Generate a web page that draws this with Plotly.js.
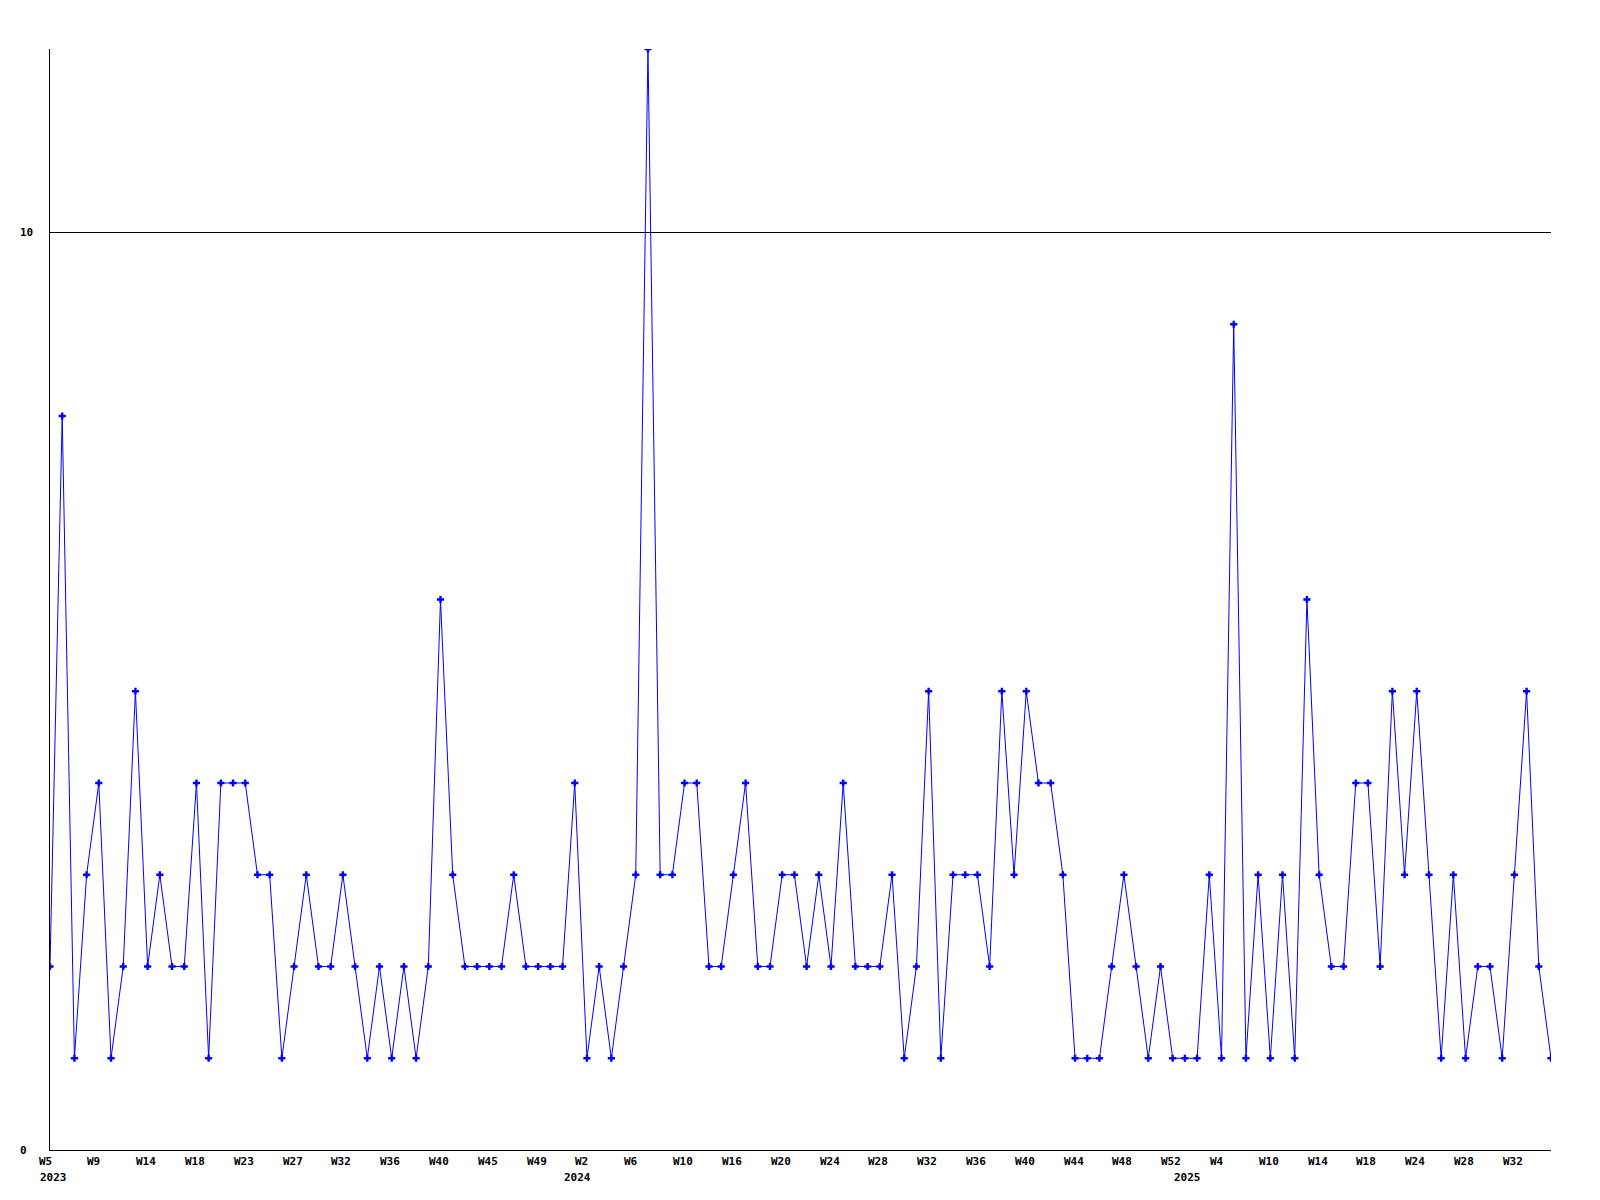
<!DOCTYPE html>
<html>
<head>
<meta charset="utf-8">
<script src="https://cdn.plot.ly/plotly-3.0.1.min.js"></script>
<style>
  html, body { margin: 0; padding: 0; background: #ffffff; }
  #chart { width: 1600px; height: 1200px; }
</style>
</head>
<body>
<div id="chart"></div>
<script>
// Weekly counts, 124 points (2023 W5 .. 2025 ~W35)
const values = [
  2, 8, 1, 3, 4, 1, 2, 5, 2, 3,
  2, 2, 4, 1, 4, 4, 4, 3, 3, 1,
  2, 3, 2, 2, 3, 2, 1, 2, 1, 2,
  1, 2, 6,
  3, 2, 2, 2, 2, 3, 2, 2, 2, 2,
  4, 1, 2, 1, 2, 3, 12, 3, 3, 4,
  4, 2, 2, 3, 4, 2, 2, 3, 3, 2,
  3, 2,
  4, 2, 2, 2, 3, 1, 2, 5, 1, 3,
  3, 3, 2, 5, 3, 5, 4, 4, 3, 1,
  1, 1, 2, 3, 2, 1, 2, 1, 1, 1,
  3, 1,
  9, 1, 3, 1, 3, 1, 6, 3, 2, 2,
  4, 4, 2, 5, 3, 5, 3, 1, 3, 1,
  2, 2, 1, 3, 5, 2, 1
];

// Tick labels (week labels) and the point index they sit on
const weekLabels = ["W5","W9","W14","W18","W23","W27","W32","W36","W40","W45","W49",
                    "W2","W6","W10","W16","W20","W24","W28","W32","W36","W40","W44","W48","W52",
                    "W4","W10","W14","W18","W24","W28","W32"];
const weekTickIdx = [0,4,8,12,16,20,24,28,32,36,40,
                     44,48,52,56,60,64,68,72,76,80,84,88,92,
                     96,100,104,108,112,116,120];

// Year labels and the point index of the first point of each year
const yearLabels = ["2023","2024","2025"];
const yearIdx = [0, 43, 93];

const yTickVals = [0, 10];
const yTickText = ["0", "10"];

const xIdx = values.map((v, i) => i);

// layout geometry
const L = 50, R = 49, T = 49, B = 50, W = 1600, H = 1200;
const plotW = W - L - R;
const plotH = H - T - B;
const xMax = values.length - 1;
const pxPerIdx = plotW / xMax;

const font = { family: "DejaVu Sans Mono, Liberation Mono, monospace", size: 11, color: "#000000", weight: "bold" };

const trace = {
  x: xIdx,
  y: values,
  type: "scatter",
  mode: "lines+markers",
  line: { color: "#0000ff", width: 1 },
  marker: { color: "#0000ff", size: 6, symbol: "cross", line: { width: 0 } },
  hoverinfo: "skip",
  cliponaxis: true
};

const annotations = [];
// week labels: left-aligned ~13px left of their point
weekLabels.forEach((lab, k) => {
  annotations.push({
    x: (weekTickIdx[k] * pxPerIdx - 13.5) / plotW, xref: "paper",
    y: -11 / plotH, yref: "paper",
    text: lab, showarrow: false, font: font,
    xanchor: "left", yanchor: "middle"
  });
});
yearLabels.forEach((lab, k) => {
  annotations.push({
    x: yearIdx[k], xref: "x",
    y: -27 / plotH, yref: "paper",
    xshift: 3,
    text: lab, showarrow: false, font: font,
    xanchor: "center", yanchor: "middle"
  });
});
yTickVals.forEach((v, k) => {
  annotations.push({
    x: (18 - L) / plotW, xref: "paper",
    y: v, yref: "y",
    text: yTickText[k], showarrow: false, font: font,
    xanchor: "left", yanchor: "middle"
  });
});

const layout = {
  width: W, height: H,
  margin: { l: L, r: R, t: T, b: B, pad: 0 },
  paper_bgcolor: "#ffffff",
  plot_bgcolor: "#ffffff",
  showlegend: false,
  font: font,
  xaxis: {
    range: [0, xMax],
    tickmode: "array",
    tickvals: weekTickIdx,
    showticklabels: false,
    ticks: "",
    showgrid: false,
    zeroline: false,
    showline: true,
    linecolor: "#000000",
    linewidth: 1,
    fixedrange: true
  },
  yaxis: {
    range: [0, 12],
    tickmode: "array",
    tickvals: yTickVals,
    showticklabels: false,
    ticks: "",
    showgrid: true,
    gridcolor: "#000000",
    gridwidth: 1,
    zeroline: false,
    showline: true,
    linecolor: "#000000",
    linewidth: 1,
    fixedrange: true
  },
  annotations: annotations
};

Plotly.newPlot("chart", [trace], layout, { staticPlot: true, displayModeBar: false });
</script>
</body>
</html>
